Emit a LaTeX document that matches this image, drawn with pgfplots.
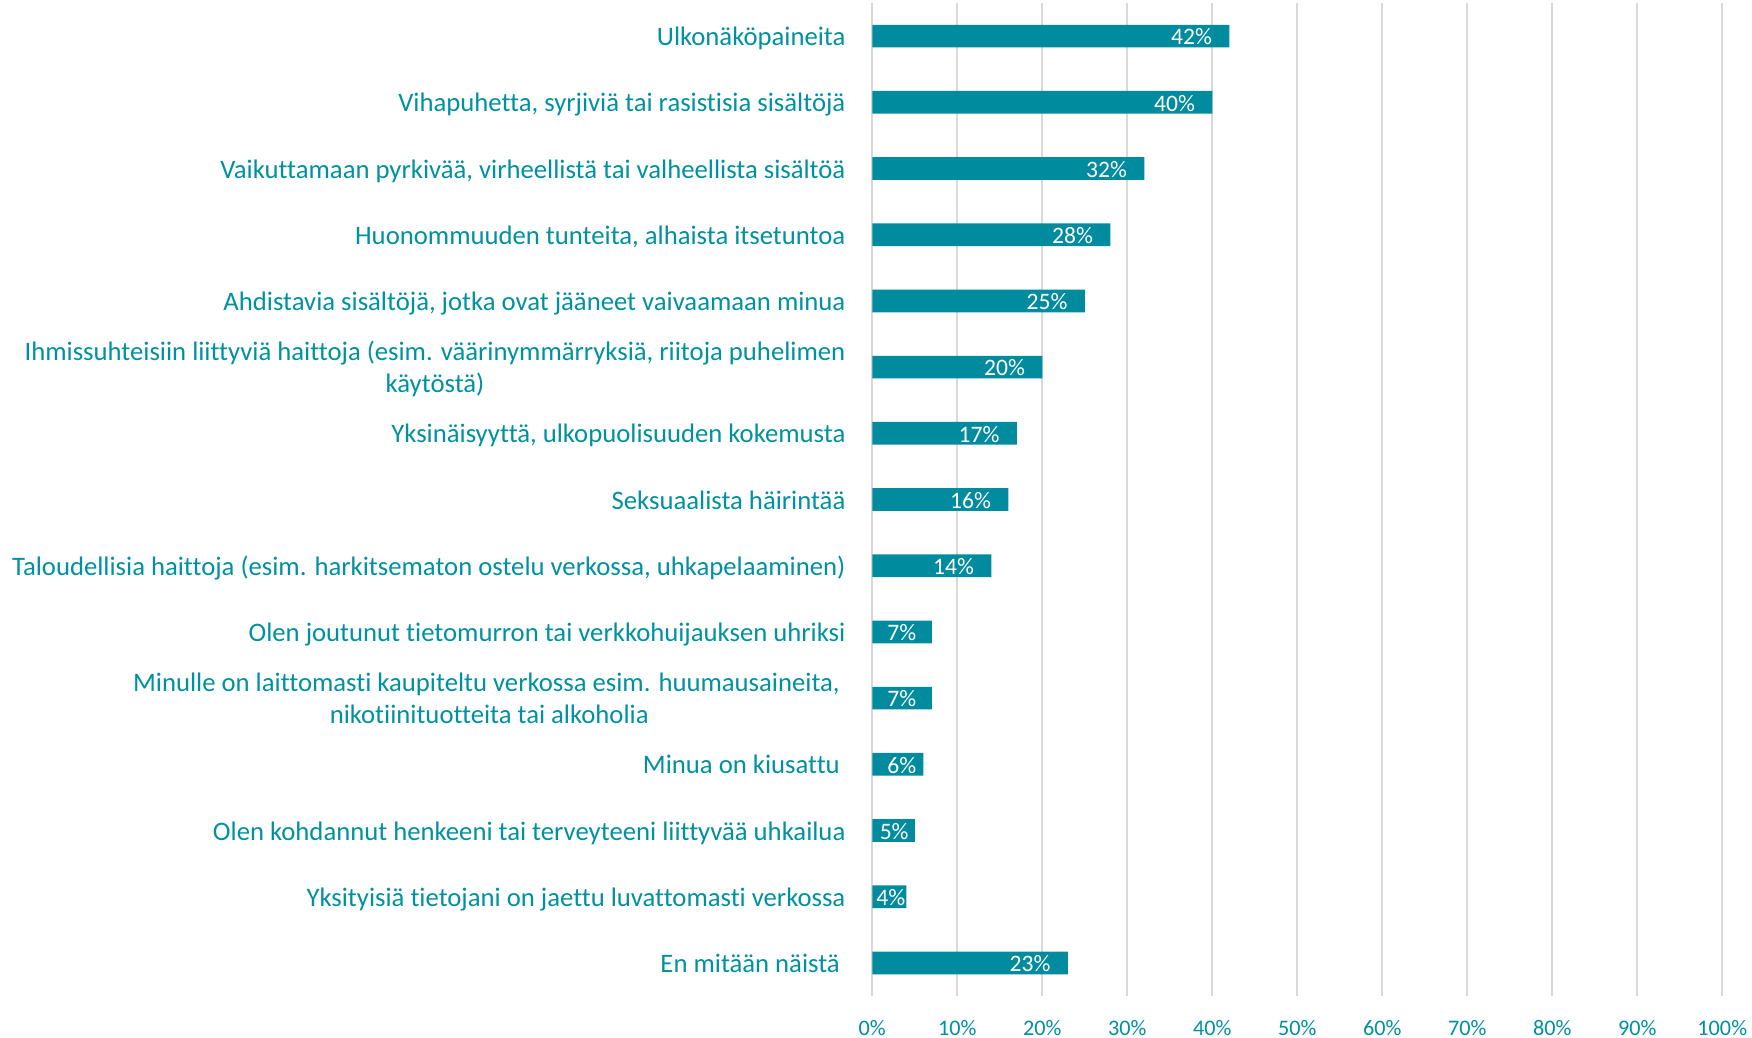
\documentclass[border=0pt]{standalone}
\usepackage{fontspec}
\setmainfont{Carlito}[Ligatures=NoCommon]
\usepackage{pgfplots}
\usepackage{pgfplotstable}
\pgfplotsset{compat=1.18}
\definecolor{barc}{RGB}{0,139,158}
\definecolor{txtc}{RGB}{0,145,160}
\definecolor{gridc}{RGB}{217,217,217}
\newcommand\catfont{\fontsize{13.35bp}{16.2bp}\selectfont}
\newcommand\tickfont{\fontsize{11.1bp}{13.5bp}\selectfont}
\newcommand\valfont{\fontsize{11.8bp}{14bp}\selectfont}
\pgfplotstableread{
idx val sh
0 42 -8.5
1 40 -8.5
2 32 -8.5
3 28 -8.5
4 25 -8.5
5 20 -8.5
6 17 -8.5
7 16 -8.5
8 14 -8.5
9 7 -7.55
10 7 -7.55
11 6 -3.3
12 5 -2.9
13 4 -0.3
14 23 -8.5
}\datatable
\begin{document}
\begin{tikzpicture}
\path[use as bounding box] (-436.15bp,-21bp) rectangle (439.85bp,498bp);
\begin{axis}[
  scale only axis,
  width=425bp, height=496.5bp,
  xmin=0, xmax=100,
  ymin=-0.5, ymax=14.5,
  y dir=reverse,
  axis line style={draw=none},
  major tick length=0pt,
  tick style={draw=none},
  xmajorgrids,
  grid style={gridc, line width=0.8bp},
  xtick={0,10,...,100},
  xticklabel={\pgfmathprintnumber[assume math mode=true]{\tick}\%},
  xticklabel style={font=\tickfont, text=txtc, anchor=base, inner sep=0pt, yshift=-19.5bp},
  ytick={0,...,14},
  yticklabels={
    {\strut Ulkonäköpaineita},
    {\strut Vihapuhetta, syrjiviä tai rasistisia sisältöjä},
    {\strut Vaikuttamaan pyrkivää, virheellistä tai valheellista sisältöä},
    {\strut Huonommuuden tunteita, alhaista itsetuntoa},
    {\strut Ahdistavia sisältöjä, jotka ovat jääneet vaivaamaan minua},
    {\strut Ihmissuhteisiin liittyviä haittoja (esim. väärinymmärryksiä, riitoja puhelimen\\\strut käytöstä)},
    {\strut Yksinäisyyttä, ulkopuolisuuden kokemusta},
    {\strut Seksuaalista häirintää},
    {\strut Taloudellisia haittoja (esim. harkitsematon ostelu verkossa, uhkapelaaminen)},
    {\strut Olen joutunut tietomurron tai verkkohuijauksen uhriksi},
    {\strut Minulle on laittomasti kaupiteltu verkossa esim. huumausaineita,\kern2.8bp\\\strut nikotiinituotteita tai alkoholia},
    {\strut Minua on kiusattu\kern2.8bp},
    {\strut Olen kohdannut henkeeni tai terveyteeni liittyvää uhkailua},
    {\strut Yksityisiä tietojani on jaettu luvattomasti verkossa},
    {\strut En mitään näistä\kern2.8bp}
  },
  yticklabel style={font=\catfont, text=txtc, anchor=east, align=center, inner sep=0pt, xshift=-13.25bp, yshift=-1.6bp},
  clip=false,
]
\addplot[xbar, bar width=11.35bp, fill=barc, draw=none,
  visualization depends on={\thisrow{sh}\as\sh},
  nodes near coords={\pgfmathprintnumber[assume math mode=true]{\pgfplotspointmeta}\%},
  every node near coord/.append style={anchor=base east, xshift=\sh bp, yshift=-4.35bp, text=white, font=\valfont, inner sep=0pt}
] table[x=val, y=idx] {\datatable};
\end{axis}
\end{tikzpicture}
\end{document}
